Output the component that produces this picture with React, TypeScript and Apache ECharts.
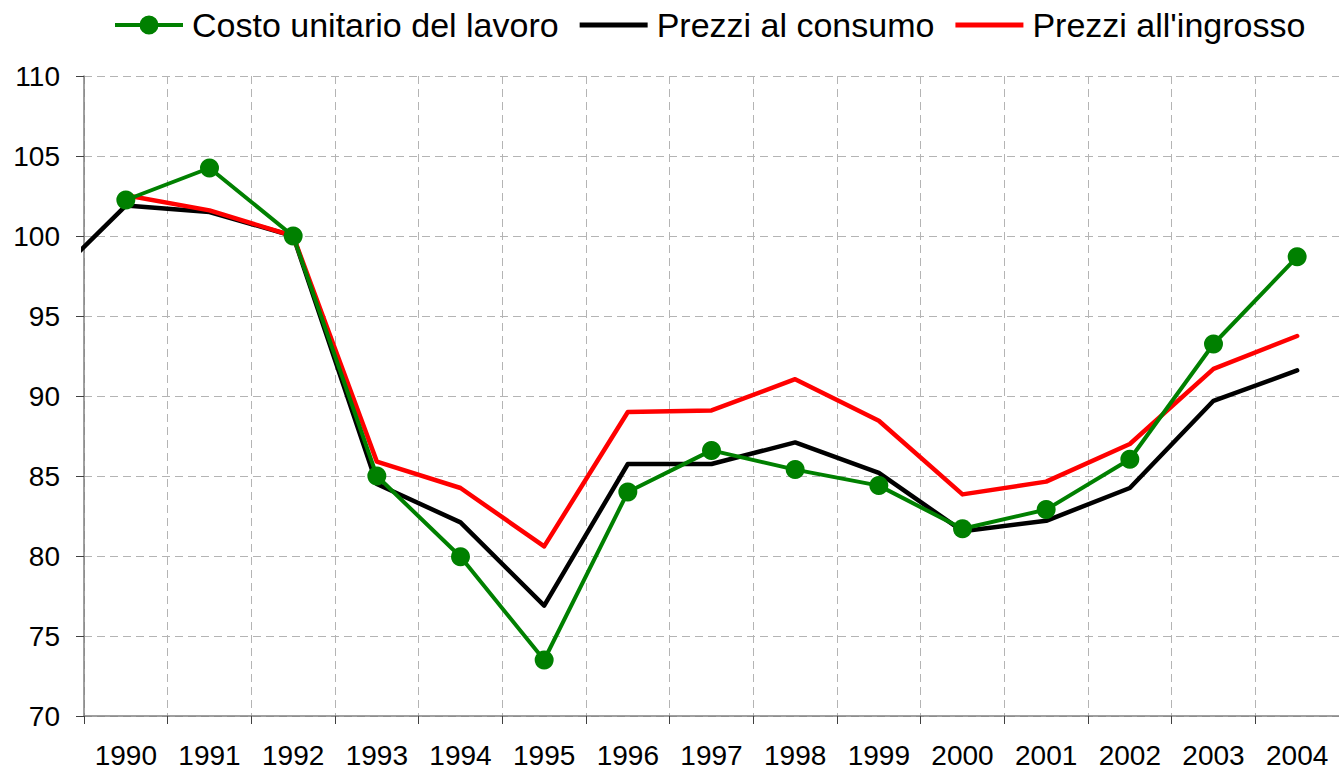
import React, { useEffect, useRef } from "react";
import * as echarts from "echarts";

const years = ["1990", "1991", "1992", "1993", "1994", "1995", "1996", "1997", "1998", "1999", "2000", "2001", "2002", "2003", "2004"];
const costoLavoro = [102.25, 104.25, 100, 85, 79.95, 73.5, 84, 86.6, 85.4, 84.4, 81.7, 82.9, 86.05, 93.25, 98.7];
const prezziConsumo = [101.9, 101.5, 100, 84.5, 82.1, 76.9, 85.75, 85.75, 87.1, 85.2, 81.55, 82.2, 84.25, 89.7, 91.6];
const prezziIngrosso = [102.55, 101.6, 100, 85.9, 84.25, 80.6, 89, 89.1, 91.05, 88.45, 83.85, 84.65, 87, 91.7, 93.75];
// the black line enters from the left edge of the picture (partial segment before 1990)
const consumoLeadIn = { pos: -0.6, value: 98.8 };

const FONT = "'Liberation Sans', Arial, Helvetica, sans-serif";

const LINE_ICON = "path://M0,7 L68,7 L68,12 L0,12 Z M0,0 L0.01,0 Z M0,19 L0.01,19 Z";
const MARKER_ICON =
  "path://M0,7.5 L68,7.5 L68,11.5 L0,11.5 Z M24.5,9.5 A9.5,9.5 0 1 1 43.5,9.5 A9.5,9.5 0 1 1 24.5,9.5 Z";

export default function App() {
  const ref = useRef<HTMLDivElement>(null);
  useEffect(() => {
    if (!ref.current) return;
    const chart = echarts.init(ref.current, undefined, { renderer: "svg" });
    const consumoData = [[consumoLeadIn.pos, consumoLeadIn.value], ...prezziConsumo.map((v, i) => [i, v])];
    chart.setOption({
      animation: false,
      backgroundColor: "#ffffff",
      textStyle: { fontFamily: FONT },
      legend: {
        left: 110,
        top: 3,
        itemWidth: 68,
        itemHeight: 19,
        itemGap: 21,
        symbolKeepAspect: true,
        data: [
          { name: "Costo unitario del lavoro", icon: MARKER_ICON },
          { name: "Prezzi al consumo", icon: LINE_ICON },
          { name: "Prezzi all'ingrosso", icon: LINE_ICON },
        ],
        textStyle: { fontSize: 34, color: "#000", fontFamily: FONT, padding: [0, 0, 0, 4] },
      },
      grid: { left: 84, right: 0, top: 76, bottom: 53, containLabel: false },
      xAxis: [
        {
          type: "category",
          data: years,
          boundaryGap: true,
          axisLine: { show: true, onZero: false, lineStyle: { color: "#808080", width: 1.5 } },
          axisTick: { show: true, length: 8, lineStyle: { color: "#404040", width: 1 } },
          axisLabel: { color: "#000", fontSize: 28, fontFamily: FONT, margin: 25 },
          splitLine: { show: true, lineStyle: { color: "#b4b4b4", type: [8, 5], width: 1 } },
        },
        {
          type: "value",
          min: -0.5,
          max: 14.5,
          show: false,
          axisLine: { onZero: false },
          splitLine: { show: false },
        },
      ],
      yAxis: {
        type: "value",
        min: 70,
        max: 110,
        interval: 5,
        axisLine: { show: true, onZero: false, lineStyle: { color: "#808080", width: 1.5 } },
        axisTick: { show: true, length: 8, lineStyle: { color: "#404040", width: 1 } },
        axisLabel: { color: "#000", fontSize: 28, fontFamily: FONT, margin: 24 },
        splitLine: { show: true, lineStyle: { color: "#b4b4b4", type: [8, 5], width: 1 } },
      },
      series: [
        {
          name: "Prezzi al consumo",
          type: "line",
          xAxisIndex: 1,
          data: consumoData,
          symbol: "none",
          clip: false,
          color: "#000000",
          lineStyle: { color: "#000000", width: 4.5, join: "round", cap: "round" },
          z: 2,
        },
        {
          name: "Prezzi all'ingrosso",
          type: "line",
          data: prezziIngrosso,
          symbol: "none",
          color: "#ff0000",
          lineStyle: { color: "#ff0000", width: 4.5, join: "round", cap: "round" },
          z: 3,
        },
        {
          name: "Costo unitario del lavoro",
          type: "line",
          data: costoLavoro,
          symbol: "circle",
          symbolSize: 19,
          color: "#008000",
          itemStyle: { color: "#008000" },
          lineStyle: { color: "#008000", width: 4, join: "round", cap: "round" },
          z: 4,
        },
      ],
    });
    return () => chart.dispose();
  }, []);
  return <div ref={ref} style={{ position: "absolute", left: 0, top: 0, width: 1339, height: 769 }} />;
}
